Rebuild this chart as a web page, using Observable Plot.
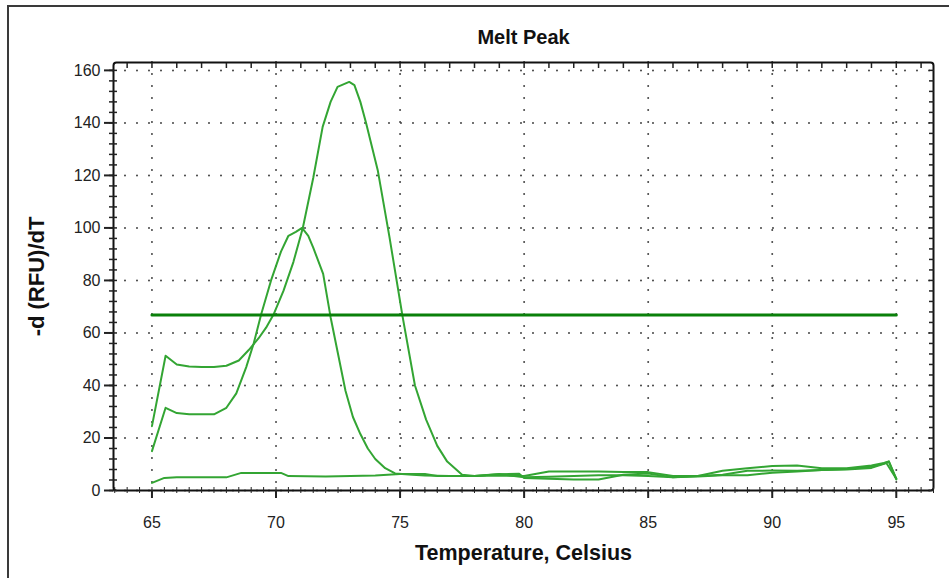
<!DOCTYPE html>
<html><head><meta charset="utf-8">
<script src="https://cdn.jsdelivr.net/npm/d3@7"></script>
<script src="https://cdn.jsdelivr.net/npm/@observablehq/plot@0.6"></script>
<style>
html,body{margin:0;padding:0;background:#fff;overflow:hidden;width:949px;height:578px;}
#border{position:absolute;left:7px;top:5px;width:1200px;height:900px;border:2px solid #3a3a3a;box-sizing:border-box;}
#chart{position:absolute;left:0;top:0;}
</style></head><body>
<div id="border"></div>
<div id="chart"></div>
<script>
// ---- data ----
const chartTitle = "Melt Peak";
const xTitle = "Temperature, Celsius";
const yTitle = "-d (RFU)/dT";

// sample with the lower plateau (~29) and the peak at ~71 °C
const tempsA = [65.0,65.55,66.0,66.5,67.0,67.5,68.0,68.4,68.8,69.1,69.4,69.8,70.2,70.5,70.8,71.05,71.3,71.5,71.9,72.2,72.5,72.8,73.1,73.4,73.7,74.0,74.4,74.8,75.5,76,77,78,79,79.8,80,81,82,83,84,85,86,87,88,89,90,91,92,93,94,94.5,94.7,95];
const valuesA = [15,31.5,29.5,29,29,29,31.5,37,47,56,67,80,91,97,98.5,100,97,92.5,82.5,66,52,38,28,21.5,16,12,8.5,6.5,6,5.7,5.5,5.5,6.2,6.4,4.8,4.5,4.2,4.2,6,6.5,5,5.3,5.8,5.8,6.8,7.2,7.8,8.2,9,10.3,11,4.2];

// sample with the upper plateau (~47) and the peak at ~73 °C
const tempsB = [65.0,65.55,66.0,66.5,67.0,67.5,68.0,68.5,68.9,69.3,69.6,69.9,70.3,70.7,71.08,71.5,71.88,72.2,72.48,72.95,73.16,73.4,73.63,74.1,74.57,75.1,75.6,76.05,76.5,76.9,77.5,78,79,80,81,82,83,84,85,86,87,88,89,90,91,92,93,94,94.5,94.7,95];
const valuesB = [24.5,51.3,48,47.2,47,47,47.5,49.5,53.5,58,62,67,76,87,100,119,138.5,148,153.7,155.6,154.4,148,140,122,96.7,66.3,40,27,17,11,6,5.5,5.7,5.5,7.2,7.2,7.2,7,7,5.5,5.5,7.5,8.5,9.3,9.5,8.5,8.5,9.5,10.5,11.1,4.5];

// flat sample (no peak)
const tempsC = [65.0,65.5,66,67,68,68.6,70.2,70.5,72,73,74,75,76,76.5,78,79,80,81,82,83,84,85,86,87,88,89,90,91,92,93,94,94.6,95];
const valuesC = [2.9,4.8,5,5,5,6.7,6.7,5.5,5.3,5.5,5.7,6.3,6.3,5.5,5.5,6.3,5,5.2,5.5,5.8,5.8,5.5,5,5.5,6,7.5,7.6,7.5,7.8,8,8.6,10.5,4.5];

// threshold line
const thresholdTemps = [65, 95];
const thresholdValue = 66.8;

// tick labels
const xMajorTicks = [65, 70, 75, 80, 85, 90, 95];
const yMajorTicks = [0, 20, 40, 60, 80, 100, 120, 140, 160];
const xMinorTicks = d3.range(63.5, 96.51, 0.5);
const xTopTicks = d3.range(64, 96.6, 1);
const yMinorTicks = d3.range(0, 162, 4);

// ---- build rows ----
const rows = (name, T, V) => T.map((t, i) => ({series: name, t, v: V[i]}));
const curves = [...rows("A", tempsA, valuesA), ...rows("B", tempsB, valuesB), ...rows("C", tempsC, valuesC)];
const threshold = thresholdTemps.map(t => ({t, v: thresholdValue}));

const font = "'Liberation Sans', Arial, sans-serif";
const noText = () => "";

const plot = Plot.plot({
  width: 949, height: 578,
  marginLeft: 113, marginRight: 16, marginTop: 62, marginBottom: 88,
  style: {fontFamily: font, fontSize: "16px", color: "#222", background: "transparent", overflow: "visible"},
  x: {domain: [63.45, 96.5]},
  y: {domain: [0, 163]},
  marks: [
    Plot.gridX(xMajorTicks, {stroke: "#444", strokeOpacity: 1, strokeWidth: 2, strokeDasharray: "0,12", strokeLinecap: "round"}),
    Plot.gridY(yMajorTicks, {stroke: "#444", strokeOpacity: 1, strokeWidth: 2, strokeDasharray: "0,12", strokeLinecap: "round"}),
    Plot.line(curves, {x: "t", y: "v", z: "series", stroke: "#33a533", strokeWidth: 2, strokeLinejoin: "round"}),
    Plot.line(threshold, {x: "t", y: "v", stroke: "#0a800a", strokeWidth: 3}),
    Plot.frame({stroke: "#111", strokeWidth: 2, rx: 3}),
    Plot.axisX(xMajorTicks, {tickSize: 8, tickPadding: 18, strokeWidth: 2, label: null, fontSize: 16}),
    Plot.axisX(xMinorTicks, {tickSize: 3, tickFormat: noText, label: null}),
    Plot.axisX(xMinorTicks, {tickSize: -3, tickFormat: noText, label: null}),
    Plot.axisX(xTopTicks, {anchor: "top", tickSize: -5, strokeWidth: 1.5, tickFormat: noText, label: null}),
    Plot.axisY(yMajorTicks, {tickSize: 9, tickPadding: 4, strokeWidth: 2, label: null, fontSize: 16}),
    Plot.axisY(yMinorTicks, {tickSize: 4, strokeWidth: 1.5, tickFormat: noText, label: null}),
    Plot.axisY(yMinorTicks, {tickSize: -4, strokeWidth: 1.5, tickFormat: noText, label: null}),
    Plot.axisY(yMinorTicks, {anchor: "right", tickSize: -5, strokeWidth: 1.5, tickFormat: noText, label: null}),
    Plot.text([chartTitle], {frameAnchor: "top", dy: -25, fontWeight: "bold", fontSize: 20, fill: "#111", lineAnchor: "middle", textAnchor: "middle"}),
    Plot.text([xTitle], {frameAnchor: "bottom", dy: 63, fontWeight: "bold", fontSize: 21.5, fill: "#111", lineAnchor: "middle", textAnchor: "middle"}),
    Plot.text([yTitle], {frameAnchor: "left", dx: -77, rotate: -90, fontWeight: "bold", fontSize: 22, fill: "#111", lineAnchor: "middle", textAnchor: "middle"})
  ]
});
document.getElementById("chart").appendChild(plot);
</script>
</body></html>
